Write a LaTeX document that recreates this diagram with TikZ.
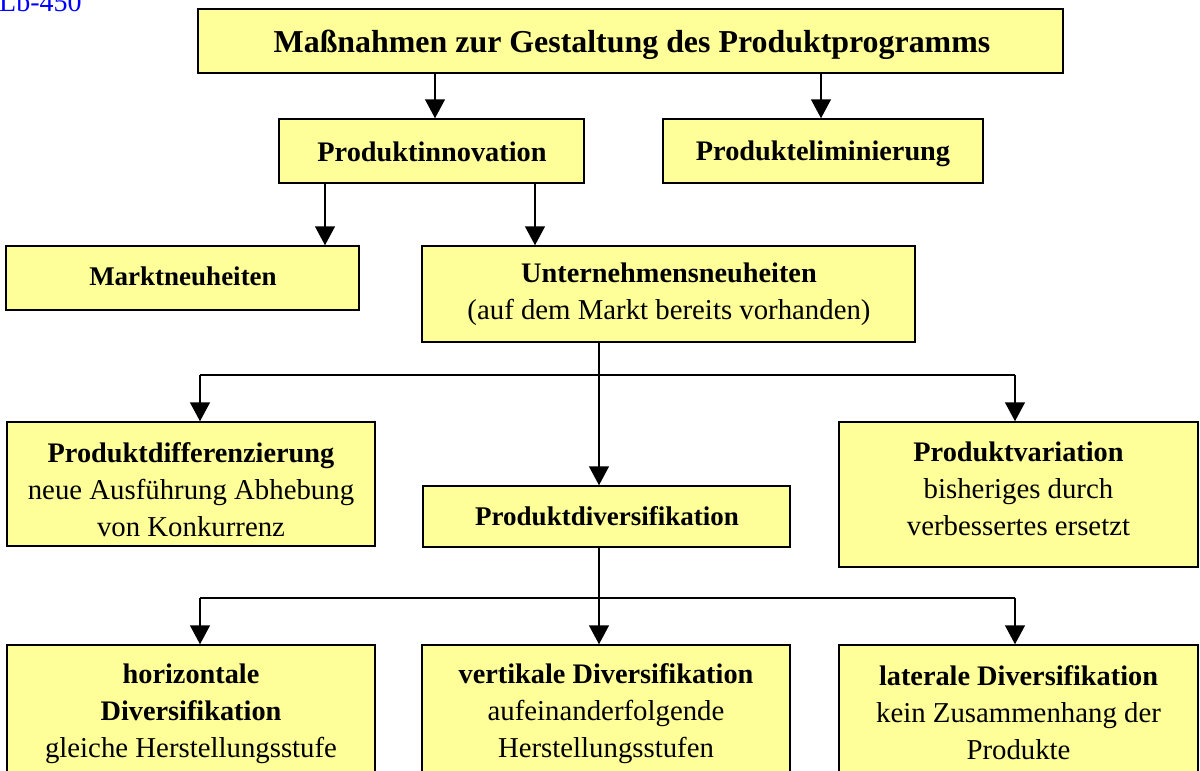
\documentclass[tikz,border=0pt]{standalone}
\usepackage{fontspec}
\setmainfont{Liberation Serif}
\usetikzlibrary{arrows.meta}
\definecolor{boxfill}{RGB}{255,255,153}
\definecolor{tagblue}{RGB}{0,0,255}
\newcommand{\hd}[1]{{\bfseries\fontsize{28.3}{37}\selectfont #1}}

\begin{document}
\begin{tikzpicture}[x=1pt,y=-1pt,
  box/.style={draw=black, line width=1.5pt, fill=boxfill, rectangle, inner sep=0pt},
  txt/.style={inner sep=0pt, align=center, font=\fontsize{28.8}{37}\selectfont},
  smalltxt/.style={txt, font=\bfseries\fontsize{27}{37}\selectfont},
  arr/.style={line width=1.5pt, -{Triangle[length=19pt,width=20pt]}},
  link/.style={line width=1.5pt}]

\useasboundingbox (0,0) rectangle (1200,771);

% tag in the upper left corner
\node[anchor=base west, inner sep=0pt, text=tagblue,
  font=\fontsize{28}{32}\selectfont] (tag) at (-1,12) {Lb-450};

% boxes
\node[box, minimum width=865pt, minimum height=64pt] (top) at (630.5,41) {};
\node[box, minimum width=305pt, minimum height=64pt] (innov) at (431.5,151) {};
\node[box, minimum width=320pt, minimum height=64pt] (elim) at (823,151) {};
\node[box, minimum width=353pt, minimum height=64pt] (markt) at (182.5,278) {};
\node[box, minimum width=493pt, minimum height=96pt] (unter) at (668.5,294) {};
\node[box, minimum width=368pt, minimum height=124pt] (diff) at (191,484) {};
\node[box, minimum width=359pt, minimum height=145pt] (var) at (1018.5,494.5) {};
\node[box, minimum width=367pt, minimum height=61pt] (divers) at (606.5,516.5) {};
\node[box, minimum width=368pt, minimum height=136pt] (horiz) at (191,713) {};
\node[box, minimum width=368pt, minimum height=136pt] (vert) at (606,713) {};
\node[box, minimum width=359pt, minimum height=136pt] (lat) at (1018.5,713) {};

% box texts
\node[txt, font=\bfseries\fontsize{31.9}{37}\selectfont] (topT) at (632,45)
  {Maßnahmen zur Gestaltung des Produktprogramms};
\node[txt] (innovT) at (432,151.5) {\hd{Produktinnovation}};
\node[txt] (elimT) at (823,153.5) {\hd{Produkteliminierung}};
\node[smalltxt] (marktT) at (183,276) {Marktneuheiten};
\node[txt] (unterT) at (669,294)
  {\hd{Unternehmensneuheiten}\\(auf dem Markt bereits vorhanden)};
\node[txt] (diffT) at (191,489.5)
  {\hd{Produktdifferenzierung}\\neue Ausführung Abhebung\\von Konkurrenz};
\node[txt] (varT) at (1018.5,488.5)
  {\hd{Produktvariation}\\bisheriges durch\\verbessertes ersetzt};
\node[smalltxt] (diversT) at (607,516.5) {Produktdiversifikation};
\node[txt] (horizT) at (191,713.5)
  {\hd{horizontale}\\\hd{Diversifikation}\\gleiche Herstellungsstufe};
\node[txt] (vertT) at (606,713.5)
  {\hd{vertikale Diversifikation}\\aufeinanderfolgende\\Herstellungsstufen};
\node[txt] (latT) at (1018.5,713)
  {\hd{laterale Diversifikation}\\kein Zusammenhang der\\Produkte};

% connector positions
\coordinate (xa) at (435,0);
\coordinate (xb) at (821,0);
\coordinate (xc) at (325,0);
\coordinate (xd) at (535,0);
\coordinate (j1) at (599,375);
\coordinate (j1L) at (200,375);
\coordinate (j1R) at (1015,375);
\coordinate (j2) at (599,598);
\coordinate (j2L) at (200,598);
\coordinate (j2R) at (1015,598);

\draw[arr] (top.south -| xa) -- (innov.north -| xa);
\draw[arr] (top.south -| xb) -- (elim.north -| xb);
\draw[arr] (innov.south -| xc) -- (markt.north -| xc);
\draw[arr] (innov.south -| xd) -- (unter.north -| xd);

\draw[link] (unter.south -| j1) -- (j1);
\draw[link] (j1L) -- (j1R);
\draw[arr] (j1L) -- (diff.north -| j1L);
\draw[arr] (j1) -- (divers.north -| j1);
\draw[arr] (j1R) -- (var.north -| j1R);

\draw[link] (divers.south -| j2) -- (j2);
\draw[link] (j2L) -- (j2R);
\draw[arr] (j2L) -- (horiz.north -| j2L);
\draw[arr] (j2) -- (vert.north -| j2);
\draw[arr] (j2R) -- (lat.north -| j2R);
\end{tikzpicture}
\end{document}
